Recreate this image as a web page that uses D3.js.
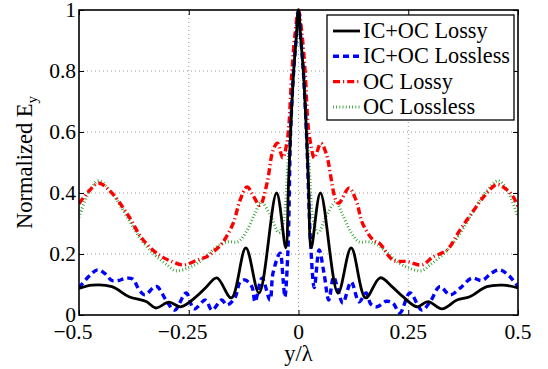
<!DOCTYPE html>
<html>
<head>
<meta charset="utf-8">
<script src="https://cdn.jsdelivr.net/npm/d3@7"></script>
<style>
  body { margin: 0; background: #fff; }
  svg { display: block; }
</style>
</head>
<body>
<svg id="chart" width="548" height="369"></svg>
<script>
// Axis ticks
const xTicks = [-0.5, -0.25, 0, 0.25, 0.5];
const yTicks = [0, 0.2, 0.4, 0.6, 0.8, 1];

// Legend entries
const seriesNames = ["IC+OC Lossy", "IC+OC Lossless", "OC Lossy", "OC Lossless"];

// IC+OC Lossy
const icocLossyX = [-0.5, -0.47, -0.425, -0.386, -0.347, -0.325, -0.295, -0.268, -0.233, -0.211, -0.186, -0.153, -0.12, -0.09, -0.05, -0.029, -0.023, -0.018, -0.011, -0.005, 0,
                    0.005, 0.011, 0.018, 0.023, 0.029, 0.05, 0.09, 0.12, 0.153, 0.186, 0.213, 0.238, 0.27, 0.295, 0.327, 0.361, 0.39, 0.429, 0.466, 0.5];
const icocLossyY = [0.087, 0.098, 0.093, 0.06, 0.044, 0.023, 0.042, 0.027, 0.06, 0.09, 0.122, 0.056, 0.22, 0.072, 0.40, 0.22, 0.42, 0.6, 0.8, 0.91, 1,
                    0.91, 0.8, 0.6, 0.42, 0.22, 0.40, 0.072, 0.22, 0.056, 0.122, 0.093, 0.06, 0.027, 0.044, 0.02, 0.049, 0.06, 0.093, 0.098, 0.089];

// IC+OC Lossless
const icocLosslessX = [-0.5, -0.475, -0.458, -0.44, -0.425, -0.41, -0.395, -0.378, -0.362, -0.35, -0.33, -0.322, -0.3, -0.282, -0.256, -0.238, -0.212, -0.197, -0.175, -0.163, -0.145, -0.133, -0.122, -0.106, -0.099, -0.083, -0.065, -0.058, -0.042, -0.035, -0.031, -0.024, -0.018, -0.011, -0.005, 0,
                       0.005, 0.011, 0.018, 0.028, 0.036, 0.047, 0.058, 0.069, 0.08, 0.09, 0.101, 0.12, 0.138, 0.154, 0.165, 0.179, 0.2, 0.215, 0.231, 0.254, 0.281, 0.3, 0.322, 0.345, 0.368, 0.395, 0.418, 0.44, 0.459, 0.48, 0.5];
const icocLosslessY = [0.09, 0.13, 0.148, 0.135, 0.113, 0.113, 0.12, 0.118, 0.08, 0.066, 0.09, 0.093, 0.045, 0.016, 0.072, 0.02, 0.049, 0.016, 0.049, 0.033, 0.056, 0.108, 0.115, 0.092, 0.043, 0.121, 0.049, 0.138, 0.203, 0.115, 0.059, 0.213, 0.6, 0.8, 0.91, 1,
                       0.91, 0.8, 0.6, 0.224, 0.09, 0.213, 0.138, 0.049, 0.125, 0.082, 0.039, 0.108, 0.043, 0.072, 0.035, 0.027, 0.045, 0.039, 0.007, 0.072, 0.016, 0.044, 0.093, 0.066, 0.088, 0.121, 0.113, 0.138, 0.148, 0.128, 0.093];

// OC Lossy
const ocLossyX = [-0.5, -0.475, -0.455, -0.425, -0.386, -0.356, -0.318, -0.288, -0.261, -0.231, -0.208, -0.19, -0.174, -0.149, -0.133, -0.117, -0.104, -0.088, -0.072, -0.058, -0.048, -0.036, -0.027, -0.022, -0.015, -0.008, 0,
                  0.008, 0.015, 0.022, 0.028, 0.036, 0.051, 0.063, 0.085, 0.092, 0.115, 0.131, 0.146, 0.17, 0.186, 0.215, 0.249, 0.281, 0.306, 0.338, 0.368, 0.397, 0.425, 0.452, 0.475, 0.489, 0.5];
const ocLossyY = [0.365, 0.41, 0.432, 0.40, 0.322, 0.25, 0.197, 0.175, 0.164, 0.18, 0.192, 0.212, 0.235, 0.30, 0.377, 0.42, 0.393, 0.36, 0.43, 0.54, 0.563, 0.515, 0.56, 0.62, 0.8, 0.92, 1,
                  0.92, 0.8, 0.62, 0.56, 0.515, 0.563, 0.53, 0.377, 0.367, 0.416, 0.377, 0.30, 0.246, 0.233, 0.18, 0.175, 0.164, 0.19, 0.213, 0.279, 0.339, 0.393, 0.428, 0.41, 0.388, 0.355];

// OC Lossless
const ocLosslessX = [-0.5, -0.475, -0.455, -0.425, -0.39, -0.36, -0.33, -0.3, -0.28, -0.25, -0.23, -0.205, -0.18, -0.16, -0.138, -0.12, -0.1, -0.085, -0.065, -0.045, -0.035, -0.024, -0.018, -0.011, -0.005, 0,
                     0.005, 0.011, 0.018, 0.024, 0.035, 0.045, 0.065, 0.085, 0.1, 0.12, 0.138, 0.16, 0.18, 0.205, 0.23, 0.25, 0.28, 0.3, 0.33, 0.36, 0.39, 0.425, 0.455, 0.475, 0.5];
const ocLosslessY = [0.32, 0.41, 0.44, 0.40, 0.32, 0.25, 0.2, 0.165, 0.145, 0.155, 0.17, 0.2, 0.23, 0.24, 0.24, 0.27, 0.33, 0.37, 0.33, 0.27, 0.30, 0.5, 0.62, 0.8, 0.91, 1,
                     0.91, 0.8, 0.62, 0.5, 0.30, 0.27, 0.33, 0.37, 0.33, 0.27, 0.24, 0.24, 0.23, 0.2, 0.17, 0.155, 0.145, 0.165, 0.2, 0.25, 0.32, 0.40, 0.44, 0.41, 0.32];

const series = [
  { name: seriesNames[0], xs: icocLossyX, ys: icocLossyY, color: "#000000", width: 2.8, dash: null },
  { name: seriesNames[1], xs: icocLosslessX, ys: icocLosslessY, color: "#0000ff", width: 3.4, dash: "6,4" },
  { name: seriesNames[2], xs: ocLossyX, ys: ocLossyY, color: "#ff0000", width: 3.4, dash: "7,3,1.2,3" },
  { name: seriesNames[3], xs: ocLosslessX, ys: ocLosslessY, color: "#1f9a1f", width: 3, dash: "0.8,2.4" }
];

const FONT = "'Liberation Serif', 'Times New Roman', Times, serif";

const svg = d3.select("#chart");
const margin = { left: 79, top: 10, right: 30, bottom: 54 };
const W = 548 - margin.left - margin.right;
const H = 369 - margin.top - margin.bottom;

const x = d3.scaleLinear().domain([-0.5, 0.5]).range([0, W]);
const y = d3.scaleLinear().domain([0, 1]).range([H, 0]);

const g = svg.append("g").attr("transform", `translate(${margin.left},${margin.top})`);

// Dotted grid
const grid = g.append("g").attr("class", "grid");
grid.selectAll("line.gx").data(xTicks.slice(1, -1)).join("line")
  .attr("x1", d => x(d)).attr("x2", d => x(d)).attr("y1", 0).attr("y2", H)
  .attr("stroke", "#9a9a9a").attr("stroke-width", 1).attr("stroke-dasharray", "1,3");
grid.selectAll("line.gy").data(yTicks.slice(1, -1)).join("line")
  .attr("x1", 0).attr("x2", W).attr("y1", d => y(d)).attr("y2", d => y(d))
  .attr("stroke", "#9a9a9a").attr("stroke-width", 1).attr("stroke-dasharray", "1,3");

// Curves
svg.append("clipPath").attr("id", "plotClip").append("rect")
  .attr("x", 0).attr("y", -2).attr("width", W).attr("height", H + 2);
const line = d3.line().x(d => x(d[0])).y(d => y(d[1])).curve(d3.curveCatmullRom.alpha(0.5));
const curves = g.append("g").attr("clip-path", "url(#plotClip)");
[3, 2, 1, 0].forEach(i => {
  const s = series[i];
  curves.append("path")
    .datum(d3.zip(s.xs, s.ys))
    .attr("d", line)
    .attr("fill", "none")
    .attr("stroke", s.color)
    .attr("stroke-width", s.width)
    .attr("stroke-dasharray", s.dash)
    .attr("stroke-linejoin", "round");
});

// Axes with inward ticks on all four sides
const fmt = d3.format("~g");
const tickLen = 5;
g.append("g").attr("transform", `translate(0,${H})`).call(d3.axisBottom(x).tickValues(xTicks).tickSize(-tickLen).tickFormat(""));
g.append("g").call(d3.axisTop(x).tickValues(xTicks).tickSize(-tickLen).tickFormat(""));
g.append("g").call(d3.axisLeft(y).tickValues(yTicks).tickSize(-tickLen).tickFormat(""));
g.append("g").attr("transform", `translate(${W},0)`).call(d3.axisRight(y).tickValues(yTicks).tickSize(-tickLen).tickFormat(""));
g.selectAll(".domain").remove();
g.selectAll(".tick line").attr("stroke", "#000").attr("stroke-width", 1);

g.append("rect").attr("x", 0).attr("y", 0).attr("width", W).attr("height", H)
  .attr("fill", "none").attr("stroke", "#000").attr("stroke-width", 1.6);

// Tick labels
const fs = 21.5;
const minusProbe = g.append("text").style("font-family", FONT).attr("font-size", fs).text("\u2212");
const minusW = minusProbe.node().getComputedTextLength();
minusProbe.remove();
g.selectAll("text.xl").data(xTicks).join("text")
  .attr("class", "xl")
  .style("font-family", FONT)
  .attr("x", d => x(d) - (d < 0 ? minusW / 2 : 0))
  .attr("y", H + 24)
  .attr("text-anchor", "middle")
  .attr("font-size", fs)
  .text(d => fmt(d));
g.selectAll("text.yl").data(yTicks).join("text")
  .attr("class", "yl")
  .style("font-family", FONT)
  .attr("x", -3)
  .attr("y", d => y(d) + 7)
  .attr("text-anchor", "end")
  .attr("font-size", fs)
  .text(d => fmt(d));

// Axis titles
svg.append("text")
  .style("font-family", FONT)
  .attr("x", margin.left + W / 2).attr("y", 361)
  .attr("text-anchor", "middle").attr("font-size", 22.5)
  .text("y/λ");
const ylab = svg.append("text")
  .style("font-family", FONT)
  .attr("transform", `translate(32,${margin.top + H / 2}) rotate(-90)`)
  .attr("text-anchor", "middle").attr("font-size", 22.5);
ylab.append("tspan").text("Normalized E");
ylab.append("tspan").attr("font-size", 15).attr("dy", 5).text("y");

// Legend
const lg = svg.append("g").attr("transform", "translate(327,15)");
lg.append("rect").attr("width", 187).attr("height", 105)
  .attr("fill", "#fff").attr("stroke", "#000").attr("stroke-width", 1.3);
series.forEach((s, i) => {
  const cy = 16 + i * 25.3;
  lg.append("line").attr("x1", 6).attr("x2", 33).attr("y1", cy).attr("y2", cy)
    .attr("stroke", s.color).attr("stroke-width", s.width).attr("stroke-dasharray", s.dash);
  lg.append("text").style("font-family", FONT).attr("x", 36).attr("y", cy + 7).attr("font-size", 22.3).text(s.name);
});
</script>
</body>
</html>
